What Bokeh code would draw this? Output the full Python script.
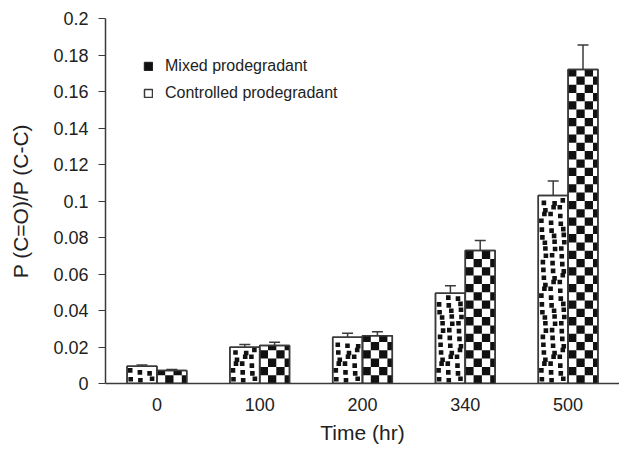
from bokeh.plotting import figure
from bokeh.models import (ColumnDataSource, Range1d, Whisker, TeeHead,
                          Legend, LegendItem, FixedTicker)
from bokeh.embed import file_html
from bokeh.resources import INLINE

# ---- data ----
times = ["0", "100", "200", "340", "500"]
mixed = [0.0095, 0.0199, 0.0254, 0.0495, 0.103]
mixed_err = [0.0007, 0.0015, 0.0022, 0.004, 0.008]
controlled = [0.0071, 0.0208, 0.0261, 0.0729, 0.172]
controlled_err = [0.0006, 0.0018, 0.0022, 0.0055, 0.0135]
y_ticks = [0, 0.02, 0.04, 0.06, 0.08, 0.1, 0.12, 0.14, 0.16, 0.18, 0.2]

# ---- geometry helpers (category k is centred at k + 0.5) ----
W, H = 619, 463
BL, BT, BB = 105, 18, 80
frame_w = W - BL
frame_h = H - BT - BB
YMAX = 0.2
px_x = len(times) / frame_w          # data units per pixel (x)
px_y = YMAX / frame_h                # data units per pixel (y)
w = 0.29                             # bar width in category units
centers = [k + 0.5 for k in range(len(times))]
m_x = [c - w / 2 for c in centers]
c_x = [c + w / 2 for c in centers]

src = ColumnDataSource(dict(
    mx=m_x, cx=c_x, mixed=mixed, controlled=controlled,
    m_lo=[v - e for v, e in zip(mixed, mixed_err)], m_hi=[v + e for v, e in zip(mixed, mixed_err)],
    c_lo=[v - e for v, e in zip(controlled, controlled_err)], c_hi=[v + e for v, e in zip(controlled, controlled_err)],
))

# checkerboard fill cells for the controlled bars
cell = 8.3
cell_w = cell * px_x
cell_h = cell * px_y
chk = dict(l=[], r=[], b=[], t=[])
for x0, top in zip(centers, controlled):
    i = 0
    while i * cell_h < top:
        y0, y1 = i * cell_h, min((i + 1) * cell_h, top)
        for j in range(4):
            if (i + j) % 2 == 1:
                l = x0 + j * cell_w
                r = min(x0 + (j + 1) * cell_w, x0 + w)
                if r > l:
                    chk["l"].append(l)
                    chk["r"].append(r)
                    chk["b"].append(y0)
                    chk["t"].append(y1)
        i += 1

# scattered small squares for the mixed bars (fixed texture offsets, in px)
jit = [(0.5, 1.0), (4.0, 0.0), (1.5, 2.5), (3.5, 1.5), (0.0, 3.0), (2.5, 0.5),
       (4.5, 2.0), (1.0, 0.0), (3.0, 3.0), (2.0, 1.5), (4.0, 2.5)]
sq = 4.6
dots = dict(l=[], r=[], b=[], t=[])
for x0, top in zip(m_x, mixed):
    left = x0 - w / 2
    i = 0
    while True:
        for j in range(3):
            jx, jy = jit[(i * 4 + j * 7) % len(jit)]
            b = (i * 6.8 + jy + 1.0) * px_y
            t = b + sq * px_y
            if t > top - 0.5 * px_y:
                continue
            l = left + (j * 9.2 + jx + 0.8) * px_x
            dots["l"].append(l)
            dots["r"].append(l + sq * px_x)
            dots["b"].append(b)
            dots["t"].append(t)
        i += 1
        if (i * 6.8 + 1.0) * px_y > top:
            break

p = figure(width=W, height=H, x_range=Range1d(0, len(times)), y_range=Range1d(0, YMAX),
           output_backend="svg", toolbar_location=None,
           min_border_left=BL, min_border_right=0, min_border_top=BT, min_border_bottom=BB)
p.outline_line_color = None
p.grid.grid_line_color = None

axc = "#3a3a3a"
r1 = p.vbar(x="mx", top="mixed", width=w, source=src,
            fill_color="white", line_color=axc, line_width=1.5)
r2 = p.vbar(x="cx", top="controlled", width=w, source=src,
            fill_color="white", line_color=axc, line_width=1.5)
rd = p.quad(left="l", right="r", bottom="b", top="t", source=ColumnDataSource(dots),
            fill_color="#111111", line_color=None)
rc = p.quad(left="l", right="r", bottom="b", top="t", source=ColumnDataSource(chk),
            fill_color="#111111", line_color=None)
# redraw outlines on top of the fill patterns
p.vbar(x="mx", top="mixed", width=w, source=src, fill_color=None, line_color=axc, line_width=1.5)
p.vbar(x="cx", top="controlled", width=w, source=src, fill_color=None, line_color=axc, line_width=1.5)

for xs, lo, hi in [("mx", "m_lo", "m_hi"), ("cx", "c_lo", "c_hi")]:
    wh = Whisker(base=xs, lower=lo, upper=hi, source=src,
                 line_color=axc, line_width=1.5,
                 upper_head=TeeHead(size=11, line_color=axc, line_width=1.5),
                 lower_head=TeeHead(size=11, line_color=axc, line_width=1.5))
    p.add_layout(wh)

font = "Liberation Sans"
p.yaxis.ticker = FixedTicker(ticks=y_ticks)
p.yaxis.formatter.use_scientific = False
p.xaxis.ticker = FixedTicker(ticks=centers)
p.xaxis.major_label_overrides = {c: t for c, t in zip(centers, times)}
for ax in (p.xaxis, p.yaxis):
    ax.axis_line_color = axc
    ax.axis_line_width = 1.5
    ax.major_label_text_font = font
    ax.major_label_text_font_size = "18px"
    ax.major_label_text_color = "#222222"
    ax.axis_label_text_font = font
    ax.axis_label_text_font_size = "21px"
    ax.axis_label_text_font_style = "normal"
    ax.axis_label_text_color = "#222222"
    ax.minor_tick_line_color = None

p.yaxis.major_tick_line_color = axc
p.yaxis.major_tick_in = 0
p.yaxis.major_tick_out = 7
p.yaxis.major_label_standoff = 10
p.yaxis.axis_label = "P (C=O)/P (C-C)"
p.yaxis.axis_label_standoff = 18

p.xaxis.major_tick_line_color = None
p.xaxis.major_label_standoff = 8
p.xaxis.axis_label = "Time (hr)"
p.xaxis.axis_label_standoff = 7

legend = Legend(items=[LegendItem(label="Mixed prodegradant", renderers=[r1, rd]),
                       LegendItem(label="Controlled prodegradant", renderers=[r2])],
                location="top_left", margin=38, padding=3, spacing=7, label_height=20,
                glyph_width=10, glyph_height=10, label_text_font=font,
                label_text_font_size="16px", label_text_color="#222222",
                label_standoff=12, border_line_color=None, background_fill_alpha=0)
p.add_layout(legend)

open("out.html", "w").write(file_html(p, INLINE))
